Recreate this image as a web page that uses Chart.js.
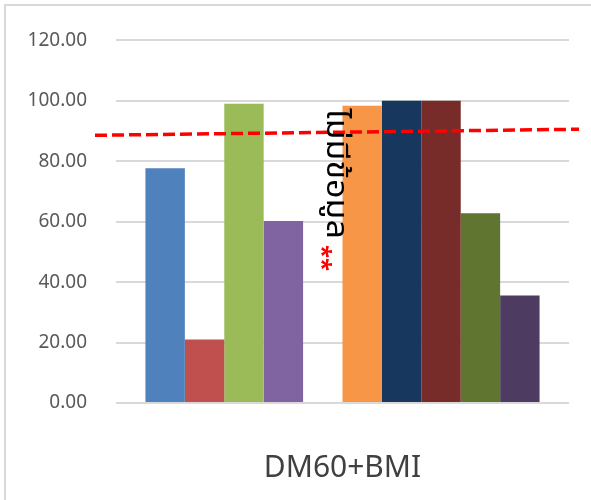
<!DOCTYPE html>
<html>
<head>
<meta charset="utf-8">
<script src="https://cdn.jsdelivr.net/npm/chart.js@4"></script>
<style>
  html, body { margin: 0; padding: 0; background: #fff; }
  #wrap { position: relative; width: 591px; height: 500px; overflow: hidden; }
  #frame {
    position: absolute; left: 4px; top: 4px; width: 640px; height: 560px;
    border: 2px solid #d9d9d9; box-sizing: border-box;
  }
  canvas { position: absolute; left: 0; top: 0; }
</style>
</head>
<body>
<div id="wrap">
  <div id="frame"></div>
  <canvas id="chart" width="591" height="500"></canvas>
</div>
<script>
// ค่าที่อ่านจากภาพต้นฉบับ
const CATEGORIES = ["DM60+BMI"];
const SERIES_NAMES = ["S1", "S2", "S3", "S4", "S5", "S6", "S7", "S8", "S9", "S10"];
const SERIES_VALUES = [77.7, 21.0, 99.0, 60.2, 0.3, 98.4, 100, 100, 62.8, 35.6];
const SERIES_COLORS = [
  "#4F81BD", "#C0504D", "#9BBB59", "#8064A2", "#4BACC6",
  "#F79646", "#17375E", "#772C2A", "#5F7530", "#4D3B62",
];
const Y_MIN = 0;
const Y_MAX = 120;
const Y_STEP = 20;
// เส้นเกณฑ์ (ค่าทางซ้าย → ขวา)
const THRESHOLD_VALUES = [88.6, 90.6];
const NOTE_TEXT = "ไม่มีข้อมูล";
const NOTE_MARK = "**";
const NOTE_SERIES = 4;
// ช่วงค่าบนแกน y ที่ข้อความแนวตั้งครอบคลุม (บน → ล่าง)
const NOTE_RANGE = [97.5, 54.3];

/**
 * เส้นเกณฑ์ประ ยื่นเลยพื้นที่กราฟเล็กน้อยทั้งสองข้าง
 */
const thresholdPlugin = {
  id: "threshold",
  afterDatasetsDraw(chart) {
    const { ctx, chartArea } = chart;
    const y = chart.scales.y;
    ctx.save();
    ctx.strokeStyle = "#ff0000";
    ctx.lineWidth = 3.5;
    ctx.setLineDash([12, 5]);
    ctx.beginPath();
    ctx.moveTo(chartArea.left - 21, y.getPixelForValue(THRESHOLD_VALUES[0]));
    ctx.lineTo(chartArea.right + 10, y.getPixelForValue(THRESHOLD_VALUES[1]));
    ctx.stroke();
    ctx.restore();
  },
};

/**
 * วาดข้อความแนวตั้งเหนือแท่งที่ไม่มีข้อมูล
 */
const notePlugin = {
  id: "note",
  afterDraw(chart) {
    const bar = chart.getDatasetMeta(NOTE_SERIES).data[0];
    const y = chart.scales.y;
    const top = y.getPixelForValue(NOTE_RANGE[0]);
    const len = y.getPixelForValue(NOTE_RANGE[1]) - top;
    const ctx = chart.ctx;
    ctx.save();
    ctx.translate(bar.x + 10, top);
    ctx.rotate(Math.PI / 2);
    ctx.font = '30px "Noto Sans Thai", "Noto Sans", "DejaVu Sans", sans-serif';
    ctx.textAlign = "left";
    ctx.textBaseline = "middle";
    ctx.fillStyle = "#000";
    const w = ctx.measureText(NOTE_TEXT).width;
    ctx.save();
    ctx.scale(len / w, 1);
    ctx.fillText(NOTE_TEXT, 0, 0);
    ctx.restore();
    ctx.font = 'bold 24px "Noto Sans", sans-serif';
    ctx.fillStyle = "#ff0000";
    ctx.fillText(NOTE_MARK, len + 6, 12);
    ctx.restore();
  },
};

const datasets = SERIES_VALUES.map((v, i) => ({
  label: SERIES_NAMES[i],
  data: [v],
  backgroundColor: SERIES_COLORS[i],
  borderWidth: 0,
}));

new Chart(document.getElementById("chart"), {
  type: "bar",
  data: { labels: CATEGORIES, datasets },
  options: {
    responsive: false,
    animation: false,
    categoryPercentage: 0.87,
    barPercentage: 1,
    layout: { padding: { top: 35, right: 22, bottom: 12, left: 0 } },
    plugins: {
      legend: { display: false },
      tooltip: { enabled: false },
    },
    scales: {
      x: {
        afterFit: (scale) => { scale.height = 85; },
        grid: { display: false, drawTicks: false },
        border: { display: false },
        ticks: {
          padding: 47,
          maxRotation: 0,
          minRotation: 0,
          color: "#404040",
          font: { family: '"Noto Sans", sans-serif', size: 30 },
        },
      },
      y: {
        min: Y_MIN,
        max: Y_MAX,
        afterFit: (scale) => { scale.width = 116; },
        grid: { color: "#d9d9d9", lineWidth: 2, drawTicks: false },
        border: { display: false },
        ticks: {
          stepSize: Y_STEP,
          padding: 29,
          color: "#595959",
          font: { family: '"Noto Sans", sans-serif', size: 19 },
          callback: (v) => Number(v).toFixed(2),
        },
      },
    },
  },
  plugins: [thresholdPlugin, notePlugin],
});
</script>
</body>
</html>
